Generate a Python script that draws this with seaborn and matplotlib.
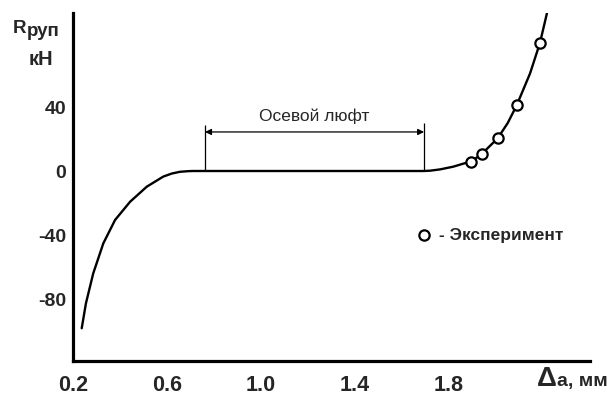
import matplotlib
matplotlib.use('Agg')
import matplotlib.pyplot as plt
import numpy as np
import pandas as pd
import seaborn as sns

# model curve R(Δa)
curve_x = [0.237, 0.255, 0.286, 0.329, 0.379, 0.443, 0.514, 0.584, 0.62, 0.655, 0.69, 0.712, 0.762,
           1.0, 1.3, 1.694, 1.72, 1.762, 1.818, 1.861, 1.894, 1.939, 2.007, 2.05, 2.088, 2.145, 2.187, 2.217]
curve_y = [-98.3, -82.7, -64.0, -45.2, -30.6, -19.2, -9.8, -3.5, -1.6, -0.5, -0.1, 0.0, 0.0,
           0.0, 0.0, 0.0, 0.2, 1.0, 2.7, 4.6, 5.8, 10.6, 20.4, 30.0, 41.0, 61.0, 80.0, 98.7]

# experiment points
exp_x = [1.894, 1.939, 2.007, 2.088, 2.187]
exp_y = [5.8, 10.6, 20.4, 41.0, 80.0]

# axial play bracket
gap_x = [0.762, 1.694]
gap_top = [28.7, 30.0]
gap_arrow_y = 24.4
gap_label = 'Осевой люфт'

x_ticks = [0.2, 0.4, 0.6, 0.8, 1.0, 1.2, 1.4, 1.6, 1.8, 2.0, 2.2, 2.4]
x_labels = ['0.2', '', '0.6', '', '1.0', '', '1.4', '', '1.8', '', '', '']
y_ticks = [-80, -40, 0, 40, 80]
y_labels = ['-80', '-40', '0', '40', '']

sns.set_style('white')
plt.rcParams['font.family'] = ['Liberation Sans', 'DejaVu Sans']

curve = pd.DataFrame({'x': curve_x, 'y': curve_y})
exp = pd.DataFrame({'x': exp_x, 'y': exp_y})

fig = plt.figure(figsize=(6.11, 4.0), dpi=100)
ax = fig.add_axes([0.1195, 0.0975, 0.8461, 0.87])

sns.lineplot(data=curve, x='x', y='y', sort=False, color='black', lw=1.7, ax=ax, zorder=3)
sns.scatterplot(data=exp, x='x', y='y', marker='o', s=55, facecolor='white',
                edgecolor='black', linewidth=1.6, ax=ax, zorder=4, label='- Эксперимент')

# bracket
ax.vlines(gap_x, 0, gap_top, color='black', lw=0.9)
ax.annotate('', xy=(gap_x[0], gap_arrow_y), xytext=(gap_x[1], gap_arrow_y),
            arrowprops=dict(arrowstyle='<|-|>', lw=0.9, color='black',
                            shrinkA=0, shrinkB=0, mutation_scale=9))
ax.text(sum(gap_x) / 2, 34.5, gap_label, ha='center', va='center', fontsize=12.5)

ax.set_xlim(0.2, 2.4)
ax.set_ylim(-118.75, 98.75)
sns.despine(ax=ax)
for side in ['left', 'bottom']:
    ax.spines[side].set_linewidth(2.3)
    ax.spines[side].set_color('black')

ax.set_xticks(x_ticks)
ax.set_xticklabels(x_labels, fontweight='bold', fontsize=15.5)
ax.set_yticks(y_ticks)
ax.set_yticklabels(y_labels, fontweight='bold', fontsize=14)
ax.tick_params(axis='x', direction='in', length=4, width=0.8, color='#555555', pad=10)
ax.tick_params(axis='y', direction='in', length=6, width=1.4, color='black', pad=5)
ax.set_xlabel('')
ax.set_ylabel('')

leg = ax.legend(loc='center left', bbox_to_anchor=(0.665, 0.362), frameon=False,
                handlelength=0.8, handletextpad=0.5, borderpad=0, borderaxespad=0,
                prop={'weight': 'bold', 'size': 12.5})

# axis titles
fig.text(13 / 611, 1 - 33 / 400, 'R', fontsize=13.5, fontweight='bold', va='baseline')
fig.text(27 / 611, 1 - 36 / 400, 'руп', fontsize=13.5, fontweight='bold', va='baseline')
fig.text(41 / 611, 1 - 65 / 400, 'кН', fontsize=14.5, fontweight='bold', va='baseline', ha='center')
fig.text(547 / 611, 1 - 386 / 400, 'Δ', fontsize=20, fontweight='bold', va='baseline', ha='center')
fig.text(557 / 611, 1 - 386 / 400, 'a, мм', fontsize=14, fontweight='bold', va='baseline')

fig.savefig('out.png', dpi=100)
